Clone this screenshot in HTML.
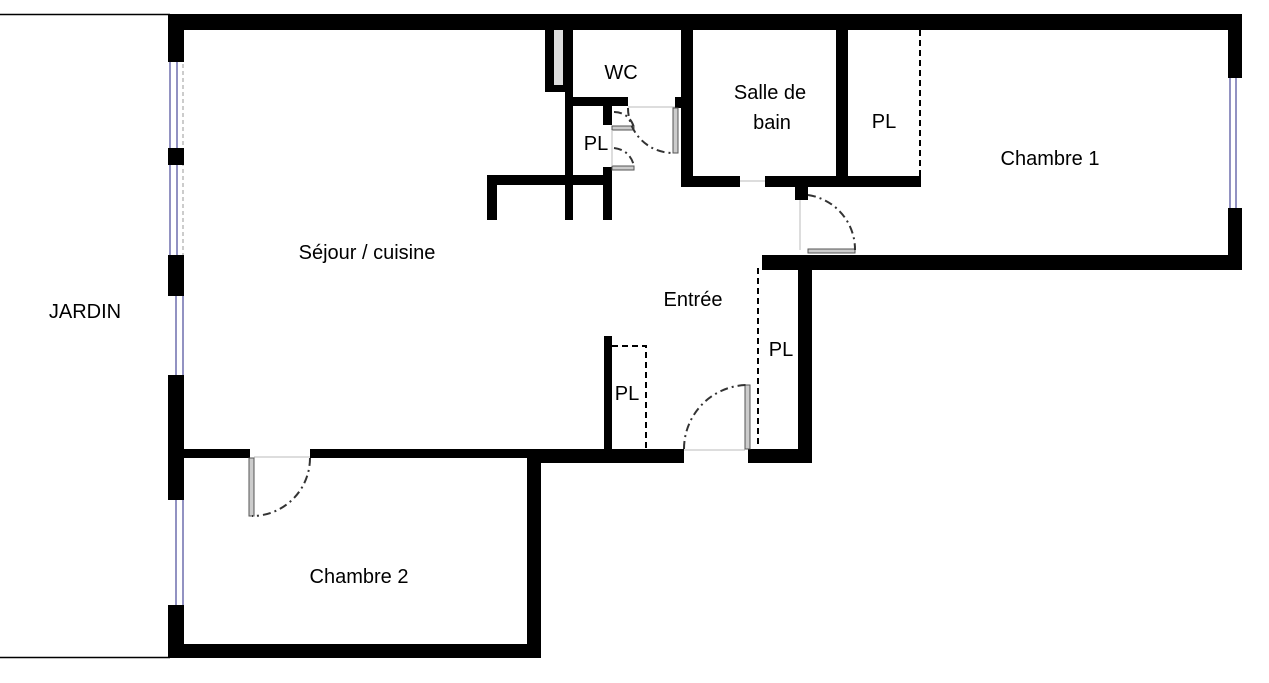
<!DOCTYPE html>
<html><head><meta charset="utf-8"><style>
html,body{margin:0;padding:0;background:#fff;}
svg{display:block}
text{font-family:"Liberation Sans",sans-serif;font-size:20px;fill:#000;text-anchor:middle}
</style></head><body>
<svg width="1269" height="683" viewBox="0 0 1269 683" xmlns="http://www.w3.org/2000/svg">
<line x1="0" y1="14.5" x2="170" y2="14.5" stroke="#000" stroke-width="1.5"/>
<line x1="0" y1="657.5" x2="170" y2="657.5" stroke="#000" stroke-width="1.5"/>
<g stroke="#4a4a9a" stroke-width="1.2">
<line x1="170" y1="62" x2="170" y2="255"/><line x1="177" y1="62" x2="177" y2="255"/>
<line x1="176" y1="296" x2="176" y2="375"/><line x1="183" y1="296" x2="183" y2="375"/>
<line x1="176" y1="500" x2="176" y2="605"/><line x1="183" y1="500" x2="183" y2="605"/>
<line x1="1230" y1="78" x2="1230" y2="208"/><line x1="1236" y1="78" x2="1236" y2="208"/>
</g>
<line x1="183" y1="64" x2="183" y2="255" stroke="#999" stroke-width="1" stroke-dasharray="4,3"/>
<g fill="#000">
<rect x="168" y="14" width="1074" height="16"/>
<rect x="168" y="14" width="16" height="48"/>
<rect x="168" y="148" width="16" height="17"/>
<rect x="168" y="255" width="16" height="41"/>
<rect x="168" y="375" width="16" height="125"/>
<rect x="168" y="605" width="16" height="53"/>
<rect x="168" y="644" width="373" height="14"/>
<rect x="527" y="449" width="14" height="209"/>
<rect x="184" y="449" width="66" height="9"/>
<rect x="310" y="449" width="231" height="9"/>
<rect x="527" y="449" width="157" height="14"/>
<rect x="748" y="449" width="64" height="14"/>
<rect x="798" y="255" width="14" height="208"/>
<rect x="762" y="255" width="480" height="15"/>
<rect x="1228" y="14" width="14" height="64"/>
<rect x="1228" y="208" width="14" height="62"/>
<rect x="762" y="255" width="40" height="8"/>
<rect x="604" y="336" width="8" height="127"/>
<rect x="681" y="30" width="12" height="157"/>
<rect x="836" y="30" width="12" height="157"/>
<rect x="681" y="176" width="59" height="11"/>
<rect x="765" y="176" width="156" height="11"/>
<rect x="795" y="187" width="13" height="13"/>
<rect x="545" y="30" width="28" height="62"/>
<rect x="565" y="30" width="8" height="190"/>
<rect x="565" y="97" width="63" height="9"/>
<rect x="675" y="97" width="8" height="11"/>
<rect x="603" y="97" width="9" height="28"/>
<rect x="603" y="167" width="9" height="53"/>
<rect x="487" y="175" width="125" height="10"/>
<rect x="487" y="175" width="10" height="45"/>
</g>
<rect x="554" y="30" width="9" height="55" fill="#ddd"/>
<g fill="#ccc" stroke="#555" stroke-width="1">
<rect x="673" y="108" width="5" height="45"/>
<rect x="612" y="126" width="22" height="4"/>
<rect x="612" y="166" width="22" height="4"/>
<rect x="745" y="385" width="5" height="64"/>
<rect x="249" y="458" width="5" height="58"/>
<rect x="808" y="249" width="47" height="4"/>
</g>
<g stroke="#bbb" stroke-width="1">
<line x1="628" y1="107" x2="675" y2="107"/>
<line x1="740" y1="181" x2="765" y2="181"/>
<line x1="800" y1="200" x2="800" y2="250"/>
<line x1="684" y1="450" x2="745" y2="450"/>
<line x1="254" y1="457" x2="310" y2="457"/>
<line x1="612" y1="130" x2="612" y2="166"/>
</g>
<g fill="none" stroke="#333" stroke-width="2" stroke-dasharray="8,4,2,4">
<path d="M628 108 A45 45 0 0 0 673 153"/>
<path d="M684 449 A64 64 0 0 1 748 385"/>
<path d="M310 458 A58 58 0 0 1 252 516"/>
<path d="M808 195 A55 55 0 0 1 855 250"/>
<path d="M614 112 A20 20 0 0 1 634 128"/>
<path d="M614 148 Q630 150 634 166"/>
</g>
<g fill="none" stroke="#000" stroke-width="2" stroke-dasharray="6,4">
<line x1="920" y1="30" x2="920" y2="176"/>
<line x1="758" y1="268" x2="758" y2="445"/>
<path d="M612 346 H646 V449"/>
</g>
<text x="367" y="259">Séjour / cuisine</text>
<text x="693" y="306">Entrée</text>
<text x="781" y="356">PL</text>
<text x="627" y="400">PL</text>
<text x="884" y="128">PL</text>
<text x="596" y="150">PL</text>
<text x="621" y="79">WC</text>
<text x="770" y="99">Salle de</text>
<text x="772" y="129">bain</text>
<text x="1050" y="165">Chambre 1</text>
<text x="359" y="583">Chambre 2</text>
<text x="85" y="318">JARDIN</text>
</svg>
</body></html>
